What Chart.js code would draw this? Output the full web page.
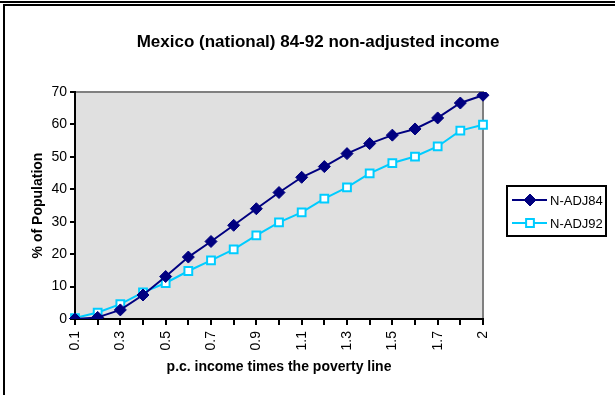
<!DOCTYPE html>
<html>
<head>
<meta charset="utf-8">
<script src="https://cdn.jsdelivr.net/npm/chart.js@4/dist/chart.umd.min.js"></script>
<style>
  html, body { margin: 0; padding: 0; background: #fff; }
  #wrap { position: relative; width: 615px; height: 395px; overflow: hidden; }
  #c { position: absolute; left: 0; top: 0; }
  .band { position: absolute; left: 0; top: 1px; width: 615px; height: 2px; background: #000; }
  .frame { position: absolute; left: 3px; top: 4px; width: 700px; height: 500px;
           border-left: 2px solid #000; border-top: 2px solid #000; box-sizing: border-box; }
</style>
</head>
<body>
<div id="wrap">
  <canvas id="c" width="615" height="395"></canvas>
  <div class="band"></div>
  <div class="frame"></div>
</div>
<script>
// ---- data ----
const categories = ['0.1','0.2','0.3','0.4','0.5','0.6','0.7','0.8','0.9','1','1.1','1.2','1.3','1.4','1.5','1.6','1.7','1.8','2'];
const nadj84 = [0, 0.5, 2.8, 7.4, 13.1, 19.1, 23.9, 28.9, 34.0, 39.0, 43.7, 47.0, 51.0, 54.1, 56.7, 58.6, 62.0, 66.6, 69.0];
const nadj92 = [0.3, 2.0, 4.6, 8.2, 11.1, 14.8, 18.1, 21.5, 25.8, 29.8, 32.9, 37.1, 40.6, 44.9, 48.1, 50.1, 53.2, 58.1, 59.9];
const seriesNames = ['N-ADJ84', 'N-ADJ92'];
const titleText = 'Mexico (national) 84-92 non-adjusted income';
const xTitle = 'p.c. income times the poverty line';
const yTitle = '% of Population';

const NAVY = '#000080';
const CYAN = '#00CCFF';
const FONT = '"Liberation Sans", Arial, sans-serif';

const plotBg = {
  id: 'plotBg',
  beforeDraw(chart) {
    const {ctx, chartArea: a} = chart;
    ctx.save();
    ctx.fillStyle = '#E0E0E0';
    ctx.fillRect(a.left, a.top, a.right - a.left, a.bottom - a.top);
    ctx.strokeStyle = '#808080';
    ctx.lineWidth = 2;
    ctx.beginPath();
    ctx.moveTo(a.left, a.top);
    ctx.lineTo(a.right, a.top);
    ctx.lineTo(a.right, a.bottom);
    ctx.stroke();
    ctx.restore();
  }
};

const boxLegend = {
  id: 'boxLegend',
  afterDraw(chart) {
    const {ctx} = chart;
    const bx = 507, by = 186, bw = 99, bh = 50;
    ctx.save();
    ctx.strokeStyle = '#000';
    ctx.lineWidth = 2;
    ctx.strokeRect(bx, by, bw, bh);
    ctx.font = '13px ' + FONT;
    ctx.textBaseline = 'middle';
    chart.data.datasets.forEach((ds, i) => {
      const y = by + 14 + i * 23;
      ctx.strokeStyle = ds.borderColor;
      ctx.lineWidth = 2;
      ctx.beginPath();
      ctx.moveTo(bx + 5, y);
      ctx.lineTo(bx + 40, y);
      ctx.stroke();
      ctx.fillStyle = ds.pointBackgroundColor;
      ctx.strokeStyle = ds.pointBorderColor;
      ctx.lineWidth = ds.pointBorderWidth;
      Chart.helpers.drawPoint(ctx, {
        pointStyle: ds.pointStyle, radius: ds.pointRadius, borderWidth: ds.pointBorderWidth, rotation: 0
      }, bx + 23, y);
      ctx.fillStyle = '#000';
      ctx.fillText(ds.label, bx + 43, y + 1);
    });
    ctx.restore();
  }
};

new Chart(document.getElementById('c'), {
  type: 'line',
  data: {
    labels: categories,
    datasets: [
      {
        label: seriesNames[0], data: nadj84,
        borderColor: NAVY, backgroundColor: NAVY, borderWidth: 2,
        pointStyle: 'rectRot', pointRadius: 6, pointBorderWidth: 1,
        pointBackgroundColor: NAVY, pointBorderColor: NAVY, tension: 0
      },
      {
        label: seriesNames[1], data: nadj92,
        borderColor: CYAN, backgroundColor: '#FFFFFF', borderWidth: 2,
        pointStyle: 'rect', pointRadius: 5.5, pointBorderWidth: 2,
        pointBackgroundColor: '#FFFFFF', pointBorderColor: CYAN, tension: 0
      }
    ]
  },
  options: {
    responsive: false,
    animation: false,
    layout: { padding: { left: 21, right: 0, top: 0, bottom: 0 } },
    plugins: {
      legend: { display: false },
      tooltip: { enabled: false },
      title: {
        display: true, text: titleText, color: '#000',
        font: { family: FONT, size: 17, weight: 'bold' },
        padding: { top: 32, bottom: 39.6 }
      }
    },
    scales: {
      x: {
        type: 'category',
        offset: false,
        afterFit(s) { s.height = 76; },
        border: { display: true, color: '#000', width: 2 },
        grid: { drawOnChartArea: false, drawTicks: true, tickLength: 6, color: '#000', lineWidth: 2 },
        ticks: {
          autoSkip: false, minRotation: 90, maxRotation: 90, padding: 6, color: '#000',
          font: { family: FONT, size: 14 },
          callback(v, i) { return i % 2 === 0 ? categories[i] : ''; }
        },
        title: {
          display: true, text: xTitle, color: '#000',
          font: { family: FONT, size: 14, weight: 'bold' },
          padding: { top: 0, bottom: 19.6 }
        }
      },
      y: {
        min: 0, max: 70,
        afterFit(s) { s.width = 54; },
        border: { display: true, color: '#000', width: 2 },
        grid: { drawOnChartArea: false, drawTicks: true, tickLength: 5, color: '#000', lineWidth: 2 },
        ticks: { stepSize: 10, padding: 3, color: '#000', font: { family: FONT, size: 14 } },
        title: {
          display: true, text: yTitle, color: '#000',
          font: { family: FONT, size: 14, weight: 'bold' },
          padding: { top: 8.6, bottom: 0 }
        }
      },
      yR: {
        position: 'right',
        display: true,
        afterFit(s) { s.width = 132; },
        ticks: { display: false },
        grid: { display: false },
        border: { display: false }
      }
    }
  },
  plugins: [plotBg, boxLegend]
});
</script>
</body>
</html>
